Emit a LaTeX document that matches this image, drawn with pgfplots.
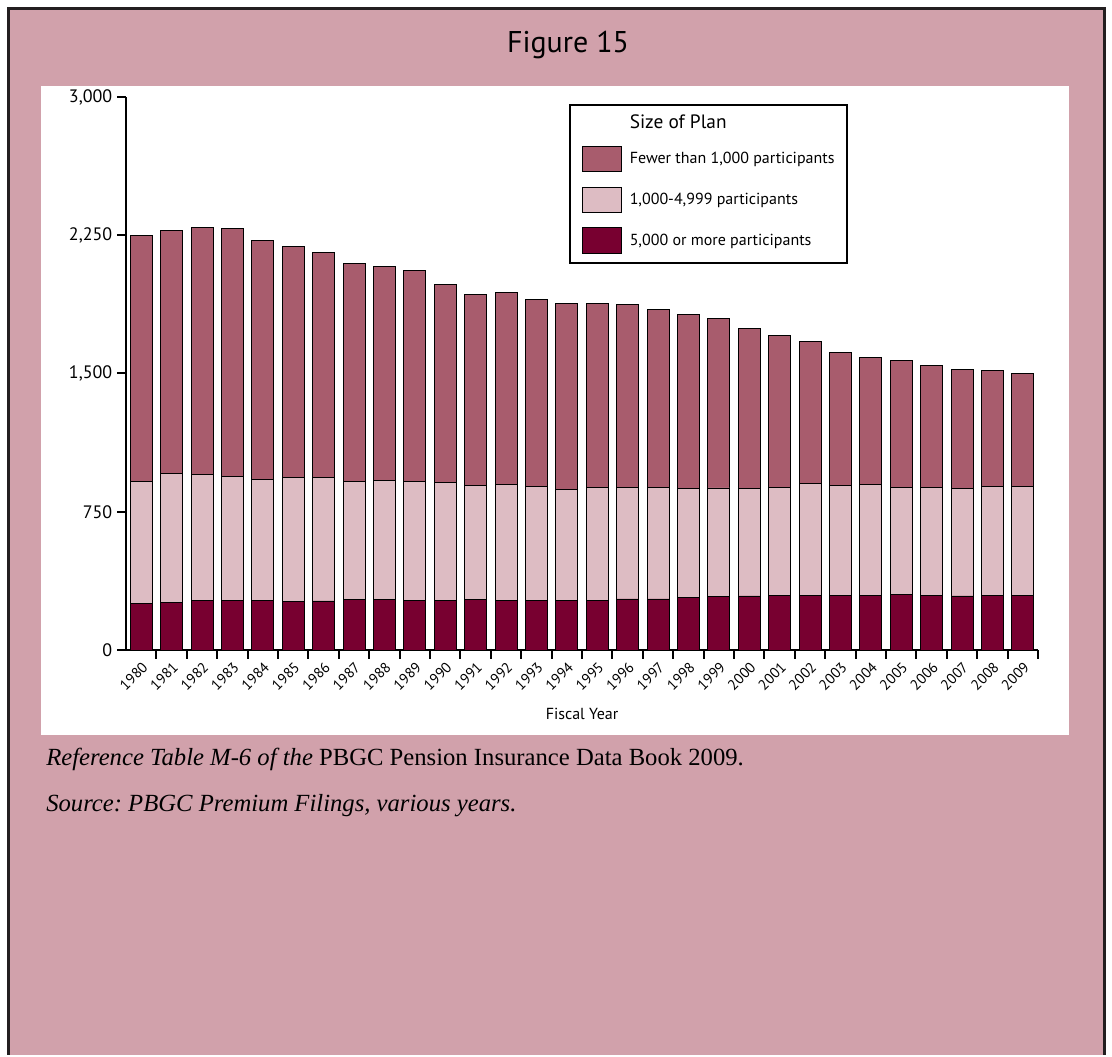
\documentclass[border=0pt]{standalone}
\usepackage{pgfplots}
\pgfplotsset{compat=1.18}
\usepackage{pgfplotstable}
\usepackage{fontspec}
\setmainfont{PT Sans}
\newfontfamily\capfont{Liberation Serif}
\definecolor{bgpink}{HTML}{D1A1AB}
\definecolor{medc}{HTML}{A85C6D}
\definecolor{lightc}{HTML}{DDBCC3}
\definecolor{darkc}{HTML}{780030}
\definecolor{framec}{HTML}{231F20}

\pgfplotstableread{
idx dark light med
0 253 662 1332
1 259 697 1318
2 269 684 1337
3 268 672 1347
4 268 658 1297
5 262 675 1252
6 266 671 1218
7 273 640 1186
8 273 645 1164
9 271 645 1145
10 269 640 1076
11 275 620 1032
12 271 629 1038
13 271 615 1016
14 268 603 1011
15 268 612 1000
16 277 603 996
17 277 605 966
18 286 591 941
19 289 590 921
20 293 582 870
21 297 583 828
22 298 606 768
23 298 595 721
24 298 601 688
25 300 584 689
26 297 583 664
27 293 584 647
28 298 590 627
29 298 590 612
}\datatable

\pgfplotsset{swatch/.style={legend image code/.code={\draw[fill=#1,draw=black,line width=0.6pt] (0pt,-9.4pt) rectangle (29.25pt,9.4pt);}}}

\begin{document}
\frenchspacing
\begin{tikzpicture}[x=0.75pt,y=0.75pt]
\fill[white] (0,0) rectangle (1112,1055);
\fill[bgpink] (8,0) rectangle (1104.5,1046);
\draw[framec, line width=2.25pt] (8,0) -- (8,1046) -- (1104.5,1046) -- (1104.5,0);
\fill[white] (41,320) rectangle (1069,969);
\node[font=\fontsize{22.5}{26}\selectfont] at (568,1010) {Figure 15};

\begin{axis}[
  scale only axis, width=684pt, height=414.75pt,
  at={(94.5pt,303.75pt)}, anchor=south west,
  xmin=-0.5, xmax=29.5, ymin=0, ymax=3000,
  axis x line*=bottom, axis y line*=left,
  axis line style={line width=1.5pt, black},
  ybar stacked, bar width=16.5pt,
  xtick={0,...,29},
  xticklabels={1980,1981,1982,1983,1984,1985,1986,1987,1988,1989,1990,1991,1992,1993,1994,1995,1996,1997,1998,1999,2000,2001,2002,2003,2004,2005,2006,2007,2008,2009},
  major x tick style={draw=none},
  minor xtick={0.5,1.5,...,29.5},
  tick align=outside,
  major tick length=6.75pt, minor tick length=6.75pt,
  tick style={black, line width=1.5pt},
  ytick={0,750,1500,2250,3000},
  yticklabels={0,750,{1,500},{2,250},{3,000}},
  yticklabel style={font=\fontsize{13.5}{15}\selectfont},
  xticklabel style={rotate=45, anchor=north east, font=\fontsize{11}{12}\selectfont, inner sep=1pt},
  xlabel={Fiscal Year}, xlabel style={font=\fontsize{12}{14}\selectfont, yshift=-8pt},
  legend style={at={(0.4857,0.987)}, anchor=north west, draw=black, line width=1.5pt,
    inner xsep=9pt, inner ysep=7.5pt, row sep=11.2pt, column sep=6pt,
    font=\fontsize{12}{13}\selectfont, nodes={inner sep=0pt}},
  legend cell align=left,
]
\addlegendimage{empty legend}
\addlegendentry{\fontsize{14.5}{16}\selectfont Size of Plan}
\addlegendimage{swatch=medc}
\addlegendentry{Fewer than 1,000 participants}
\addlegendimage{swatch=lightc}
\addlegendentry{1,000-4,999 participants}
\addlegendimage{swatch=darkc}
\addlegendentry{5,000 or more participants}
\addplot[fill=darkc, draw=black, line width=0.6pt, forget plot] table[x=idx, y=dark] {\datatable};
\addplot[fill=lightc, draw=black, line width=0.6pt, forget plot] table[x=idx, y=light] {\datatable};
\addplot[fill=medc, draw=black, line width=0.6pt, forget plot] table[x=idx, y=med] {\datatable};
\end{axis}

\node[anchor=base west, inner sep=0pt, font=\capfont\fontsize{18.5}{21}\selectfont] at (46,289) {\itshape Reference Table M-6 of the\/ \upshape PBGC Pension Insurance Data Book 2009.};
\node[anchor=base west, inner sep=0pt, font=\capfont\fontsize{18.5}{21}\selectfont] at (46,243) {\itshape Source: PBGC Premium Filings, various years.};
\end{tikzpicture}
\end{document}
